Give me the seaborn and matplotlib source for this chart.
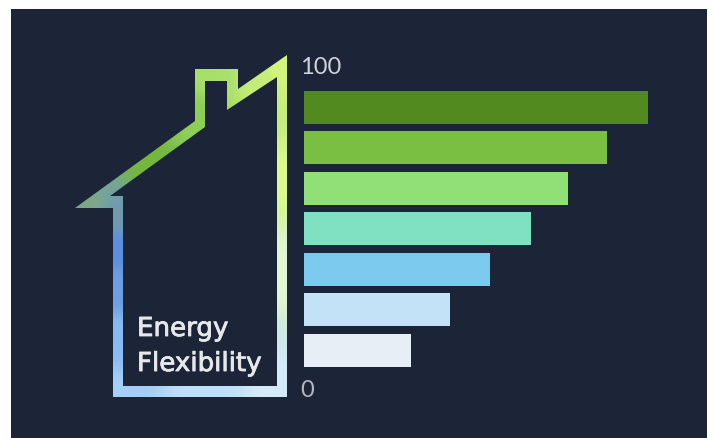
import numpy as np
import pandas as pd
import matplotlib
matplotlib.use("Agg")
import matplotlib.pyplot as plt
import matplotlib.patheffects as pe
from matplotlib.colors import to_rgb
from matplotlib.patches import PathPatch, Rectangle
from matplotlib.path import Path
import seaborn as sns

# chart values
levels = ["L7", "L6", "L5", "L4", "L3", "L2", "L1"]
scores = [100, 88, 76.7, 66, 54, 42.5, 31]
bar_colors = ["#528a20", "#7abf42", "#90e077", "#80e0c2", "#7ccbee", "#c3e2f8", "#e8eef5"]
axis_labels = ["100", "0"]
title_lines = ["Energy", "Flexibility"]

W, H = 715, 439
panel_color = "#1c2438"

# house outline, in pixels of the image
house_outer = [(75, 209), (195, 122), (195, 70), (238, 70), (238, 90), (287, 56),
               (287, 398), (113, 398), (113, 209), (75, 209)]
house_inner = [(110, 197), (123, 197), (123, 387), (277, 387), (277, 78),
               (227, 111), (227, 82), (205, 82), (205, 128), (110, 197)]

# colours along the outline
grad_stops = [(113, 398, "#a4d0fb"), (118, 340, "#8abcf4"), (118, 290, "#6c9fe6"),
              (118, 250, "#5b8fe0"), (118, 215, "#6f9cae"), (85, 206, "#7fa88a"),
              (150, 165, "#74b83a"), (200, 118, "#8ccf55"), (215, 76, "#a8e06c"),
              (260, 80, "#c4ee78"), (282, 70, "#d4f57c"), (282, 180, "#dcfa8e"),
              (282, 270, "#e4f8d4"), (282, 392, "#d4ecfa"), (200, 392, "#bfe0fa")]

sns.set_theme(style="white")
plt.rcParams["font.family"] = ["DejaVu Sans"]

fig = plt.figure(figsize=(W / 100, H / 100), dpi=100, facecolor="white")

# full figure axes working in pixels
bg = fig.add_axes([0, 0, 1, 1])
bg.set_xlim(0, W)
bg.set_ylim(H, 0)
bg.axis("off")
bg.add_patch(Rectangle((11, 10), 696, 435, facecolor=panel_color, edgecolor="none"))

# gradient house: inverse distance colours clipped to the outline
xx, yy = np.meshgrid(np.arange(70, 292), np.arange(50, 402))
weights = np.zeros(xx.shape)
rgb = np.zeros(xx.shape + (3,))
for sx, sy, c in grad_stops:
    w = 1 / ((xx - sx) ** 2 + (yy - sy) ** 2 + 1.0) ** 1.5
    weights += w
    rgb += w[..., None] * np.array(to_rgb(c))
rgb = rgb / weights[..., None]
im = bg.imshow(rgb, extent=(70, 292, 402, 50), aspect="auto", interpolation="bilinear", zorder=2)
bg.set_xlim(0, W)
bg.set_ylim(H, 0)

# inner ring runs the other way round so it stays a hole
verts = house_outer + house_inner
codes = ([Path.MOVETO] + [Path.LINETO] * (len(house_outer) - 2) + [Path.CLOSEPOLY]
         + [Path.MOVETO] + [Path.LINETO] * (len(house_inner) - 2) + [Path.CLOSEPOLY])
clip = PathPatch(Path(verts, codes), transform=bg.transData, facecolor="none", edgecolor="none")
bg.add_patch(clip)
im.set_clip_path(clip)

# bars
df = pd.DataFrame({"level": levels, "score": scores})
ax = fig.add_axes([304 / W, 1 - 371.5 / H, 344 / W, 283.5 / H])
ax.patch.set_alpha(0)
sns.barplot(data=df, x="score", y="level", hue="level", palette=bar_colors,
            width=0.81, legend=False, saturation=1, linewidth=0, edgecolor="none", ax=ax)
ax.set_xlim(0, 100)
ax.set_ylim(6.5, -0.5)
ax.axis("off")

# labels
bg.text(300, 68, axis_labels[0], color="#d0d4da", fontsize=17, fontfamily="Lato", ha="left", va="center")
bg.text(300, 391, axis_labels[1], color="#b4b9c1", fontsize=17, fontfamily="Lato", ha="left", va="center")
thicker = [pe.withStroke(linewidth=0.6, foreground="#e6e8ea")]
bg.text(137, 330, title_lines[0], color="#e6e8ea", fontsize=18.8, ha="left", va="center", path_effects=thicker)
bg.text(137, 365, title_lines[1], color="#e6e8ea", fontsize=18.8, ha="left", va="center", path_effects=thicker)

fig.savefig("out.png", dpi=100, facecolor="white")
